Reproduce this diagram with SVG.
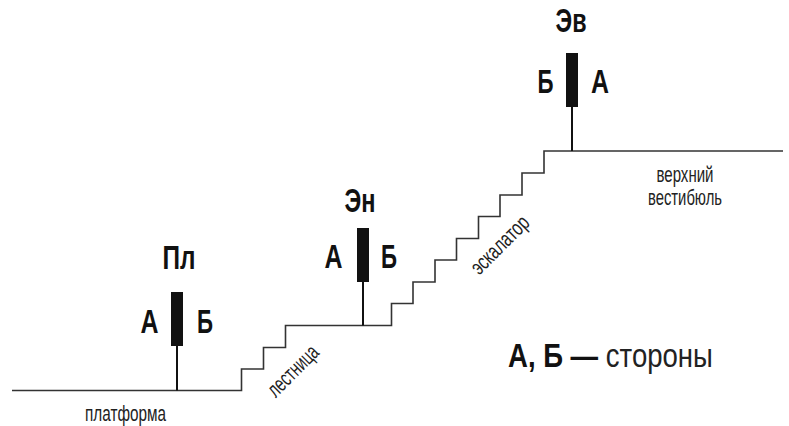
<svg xmlns="http://www.w3.org/2000/svg" width="789" height="426" viewBox="0 0 789 426">
<style>
.ln{fill:none;stroke:#333;stroke-width:1.6}
.pole{stroke:#111;stroke-width:2}
.bar{fill:#111}
.b{font-family:"Liberation Sans",Arial,sans-serif;font-weight:bold;fill:#111}
.r{font-family:"Liberation Sans",Arial,sans-serif;fill:#222}
</style>
<rect width="789" height="426" fill="#fff"/>
<g id="connectors">
<path class="ln" d="M12,390.5 H241.5 V369 H263.5 V347.5 H285.5 V325.5 H391.5 V303.5 H413 V282 H435 V260 H456.5 V238.5 H478.5 V216.5 H500 V195 H522 V173 H544 V151 H783"/>
</g>
<g id="node-pl">
<line class="pole" x1="177" y1="346" x2="177" y2="390.5"/>
<rect class="bar" x="171" y="292" width="12" height="54"/>
<text class="b" x="179" y="269" font-size="33" text-anchor="middle" textLength="33" lengthAdjust="spacingAndGlyphs">Пл</text>
<text class="b" x="149.5" y="333" font-size="33" text-anchor="middle" textLength="18" lengthAdjust="spacingAndGlyphs">А</text>
<text class="b" x="205" y="333" font-size="33" text-anchor="middle" textLength="16" lengthAdjust="spacingAndGlyphs">Б</text>
</g>
<g id="node-en">
<line class="pole" x1="363" y1="282" x2="363" y2="325.5"/>
<rect class="bar" x="357" y="228" width="12" height="54"/>
<text class="b" x="360" y="212" font-size="33" text-anchor="middle" textLength="31" lengthAdjust="spacingAndGlyphs">Эн</text>
<text class="b" x="333.5" y="268" font-size="33" text-anchor="middle" textLength="18" lengthAdjust="spacingAndGlyphs">А</text>
<text class="b" x="389" y="268" font-size="33" text-anchor="middle" textLength="16" lengthAdjust="spacingAndGlyphs">Б</text>
</g>
<g id="node-ev">
<line class="pole" x1="572" y1="107" x2="572" y2="151"/>
<rect class="bar" x="566" y="53" width="12" height="54"/>
<text class="b" x="571" y="32" font-size="33" text-anchor="middle" textLength="31" lengthAdjust="spacingAndGlyphs">Эв</text>
<text class="b" x="545.5" y="93" font-size="33" text-anchor="middle" textLength="16" lengthAdjust="spacingAndGlyphs">Б</text>
<text class="b" x="600" y="93" font-size="33" text-anchor="middle" textLength="18" lengthAdjust="spacingAndGlyphs">А</text>
</g>
<g id="labels">
<text class="r" x="85" y="421" font-size="22" textLength="81" lengthAdjust="spacingAndGlyphs">платформа</text>
<text class="r" transform="translate(298,376) rotate(-45)" font-size="22" text-anchor="middle" textLength="63" lengthAdjust="spacingAndGlyphs">лестница</text>
<text class="r" transform="translate(505,250) rotate(-45)" font-size="22" text-anchor="middle" textLength="73" lengthAdjust="spacingAndGlyphs">эскалатор</text>
<text class="r" x="685" y="182" font-size="22" text-anchor="middle" textLength="57" lengthAdjust="spacingAndGlyphs">верхний</text>
<text class="r" x="685" y="205" font-size="22" text-anchor="middle" textLength="74" lengthAdjust="spacingAndGlyphs">вестибюль</text>
</g>
<g id="legend">
<text class="r" transform="translate(508,367) scale(0.835,1)" font-size="33"><tspan class="b">А, Б —</tspan> стороны</text>
</g>
</svg>
